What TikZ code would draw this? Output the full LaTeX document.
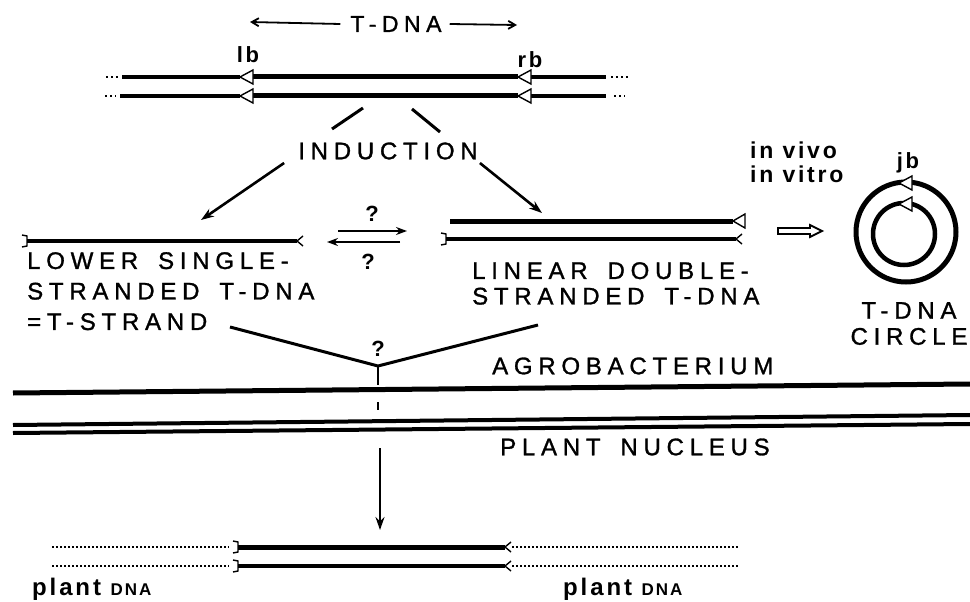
\documentclass[tikz,border=0pt]{standalone}
\usepackage{fontspec}
\setmainfont{Liberation Sans}
\newfontfamily\capsfont[LetterSpace=24, WordSpace=1.6, FakeBold=1.2]{Liberation Sans}
\newfontfamily\tagfont[LetterSpace=12]{Liberation Sans}
\usetikzlibrary{arrows.meta, positioning}

\begin{document}
\begin{tikzpicture}[x=1pt, y=-1pt,
    tdna/.style={line width=5pt},
    flank/.style={line width=3.5pt},
    border/.style={fill=white, line width=1.4pt, line join=miter},
    cut/.style={line width=1.4pt},
    arr/.style={line width=2.6pt, -{Stealth[length=13pt, width=9pt]}},
    caps/.style={inner sep=0pt, font=\capsfont\fontsize{24}{30.5}\selectfont},
    tag/.style={inner sep=0pt, font=\tagfont\bfseries\fontsize{22}{23}\selectfont},
    quest/.style={inner sep=0pt, font=\bfseries\fontsize{22}{24}\selectfont},
    membrane/.style={line width=5pt},
    dots/.style={line width=2.5pt, dash pattern=on 2pt off 3pt},
    plantdots/.style={line width=1.5pt, dash pattern=on 1.5pt off 2.5pt}]

    \useasboundingbox (0,0) rectangle (970,602);

    % T-DNA span on top
    \node[caps, font=\capsfont\fontsize{23}{26}\selectfont] (tdna) at (396,24) {T-DNA};
    \coordinate (tdnal) at (250,22);
    \coordinate (tdnar) at (517,25);
    \draw[line width=1.8pt, -{Straight Barb[length=7pt, width=8pt]}] ([xshift=-10pt]tdna.west) -- (tdnal);
    \draw[line width=1.8pt, -{Straight Barb[length=7pt, width=8pt]}] ([xshift=8pt]tdna.east) -- (tdnar);

    % Ti plasmid, upper strand
    \draw[flank] (122,77) -- (240,77);
    \draw[tdna] (252,77) -- (518,77);
    \draw[flank] (530,77) -- (606,77);
    \draw[border] (240,77) -- (253,70) -- (253,84) -- cycle;
    \draw[border] (518,77) -- (531,70) -- (531,84) -- cycle;
    \draw[dots] (106,77) -- (118,77);
    \draw[dots] (611,77) -- (630,77);

    % Ti plasmid, lower strand
    \draw[flank] (120,96) -- (240,96);
    \draw[tdna] (252,96) -- (518,96);
    \draw[flank] (530,96) -- (606,96);
    \draw[border] (240,96) -- (253,89) -- (253,103) -- cycle;
    \draw[border] (518,96) -- (531,89) -- (531,103) -- cycle;
    \draw[dots] (105,96) -- (116,96);
    \draw[dots] (614,96) -- (625,96);

    % border labels
    \node[tag] (lb) at (248,55) {lb};
    \node[tag] (rb) at (530,60) {rb};

    % induction
    \node[caps] (induction) at (388,151) {INDUCTION};
    \coordinate (plasl) at (363,108);
    \coordinate (plasr) at (412,109);
    \coordinate (indl) at (332,129);
    \coordinate (indr) at (440,132);
    \draw[line width=3pt] (plasl) -- (indl);
    \draw[line width=3pt] (plasr) -- (indr);
    \coordinate (ssend) at (201,220);
    \coordinate (dsend) at (542,213);
    \draw[arr] ([shift={(-14,12)}]induction.west) -- (ssend);
    \draw[arr] ([shift={(2,12)}]induction.east) -- (dsend);

    % lower single strand
    \draw[line width=4pt] (27,241) -- (297,241);
    \draw[cut] (22,235) -- (27,236) -- (27,246) -- (22,247);
    \draw[cut] (303,236) -- (297,241) -- (303,246);
    \node[caps, anchor=north west, align=left] (ssdna) at (27,252) {LOWER SINGLE-\\STRANDED T-DNA\\=T-STRAND};

    % equilibrium
    \draw[arr, line width=2.4pt, -{Stealth[length=11pt, width=8pt]}] (338,231) -- (407,231);
    \draw[arr, line width=2.4pt, -{Stealth[length=11pt, width=8pt]}] (400,242) -- (327,242);
    \node[quest] (qa) at (372,214) {?};
    \node[quest] (qb) at (368,262) {?};

    % linear double strand
    \draw[line width=5pt] (450,221) -- (733,221);
    \draw[border] (733,221) -- (745,214) -- (745,228) -- cycle;
    \draw[line width=4.5pt] (446,239) -- (736,239);
    \draw[cut] (441,233) -- (446,234) -- (446,244) -- (441,245);
    \draw[cut] (742,234) -- (736,239) -- (742,244);
    \node[caps, anchor=north west, align=left, font=\capsfont\fontsize{24}{25.5}\selectfont] (dsdna) at (472,262) {LINEAR DOUBLE-\\STRANDED T-DNA};

    % circularisation
    \node[tag, anchor=base west, align=left, font=\tagfont\bfseries\fontsize{23}{23.5}\selectfont] (vivo) at (750,182) {in vivo\\in vitro};
    \draw[line width=1.8pt, line join=miter] (778,228) -- (810,228) -- (810,225) -- (822,231)
        -- (810,237) -- (810,234) -- (778,234) -- cycle;
    \draw[line width=5pt] (906,232) circle (50pt);
    \draw[line width=4.5pt] (904,234) circle (31pt);
    \draw[border] (899,183) -- (912,176) -- (912,190) -- cycle;
    \draw[border] (899,204) -- (912,197) -- (912,211) -- cycle;
    \node[tag] (jb) at (908,163) {jb};
    \node[caps, anchor=north, align=center, font=\capsfont\fontsize{24}{26}\selectfont] (circ) at (909,302) {T-DNA\\CIRCLE};

    % transfer to the plant
    \node[quest] (qc) at (378,349) {?};
    \coordinate (vtip) at (378,366);
    \coordinate (vl) at (230,327);
    \coordinate (vr) at (538,325);
    \coordinate (vdown) at (378,385);
    \draw[line width=3pt] (vl) -- (vtip) -- (vr);
    \draw[line width=2.2pt] (vtip) -- (vdown);

    % cell envelopes
    \draw[membrane] (13,393) -- (970,384);
    \node[caps, anchor=west] (agro) at (492,366) {AGROBACTERIUM};
    \draw[line width=1.8pt] (378,402) -- (378,410);
    \draw[line width=4pt] (13,425) -- (970,415);
    \draw[line width=4pt] (13,433) -- (970,424);
    \node[caps, anchor=west] (nucleus) at (500,447) {PLANT NUCLEUS};
    \coordinate (inss) at (380,448);
    \coordinate (intop) at (380,530);
    \draw[arr, line width=2pt] (inss) -- (intop);

    % integrated T-DNA
    \draw[line width=5pt] (238,547) -- (505,547);
    \draw[line width=4.5pt] (238,566) -- (505,566);
    \draw[cut] (233,541) -- (238,542) -- (238,552) -- (233,553);
    \draw[cut] (233,560) -- (238,561) -- (238,571) -- (233,572);
    \draw[cut] (511,542) -- (505,547) -- (511,552);
    \draw[cut] (511,561) -- (505,566) -- (511,571);
    \draw[plantdots] (52,547) -- (229,547);
    \draw[plantdots] (52,566) -- (229,566);
    \draw[plantdots] (512,547) -- (740,547);
    \draw[plantdots] (512,566) -- (740,566);
    \node[anchor=base west, inner sep=0pt, font=\tagfont\bfseries] (plantl) at (32,595) {\fontsize{24}{26}\selectfont plant \fontsize{17}{20}\selectfont DNA};
    \node[anchor=base west, inner sep=0pt, font=\tagfont\bfseries] (plantr) at (563,595) {\fontsize{24}{26}\selectfont plant \fontsize{17}{20}\selectfont DNA};

\end{tikzpicture}
\end{document}
